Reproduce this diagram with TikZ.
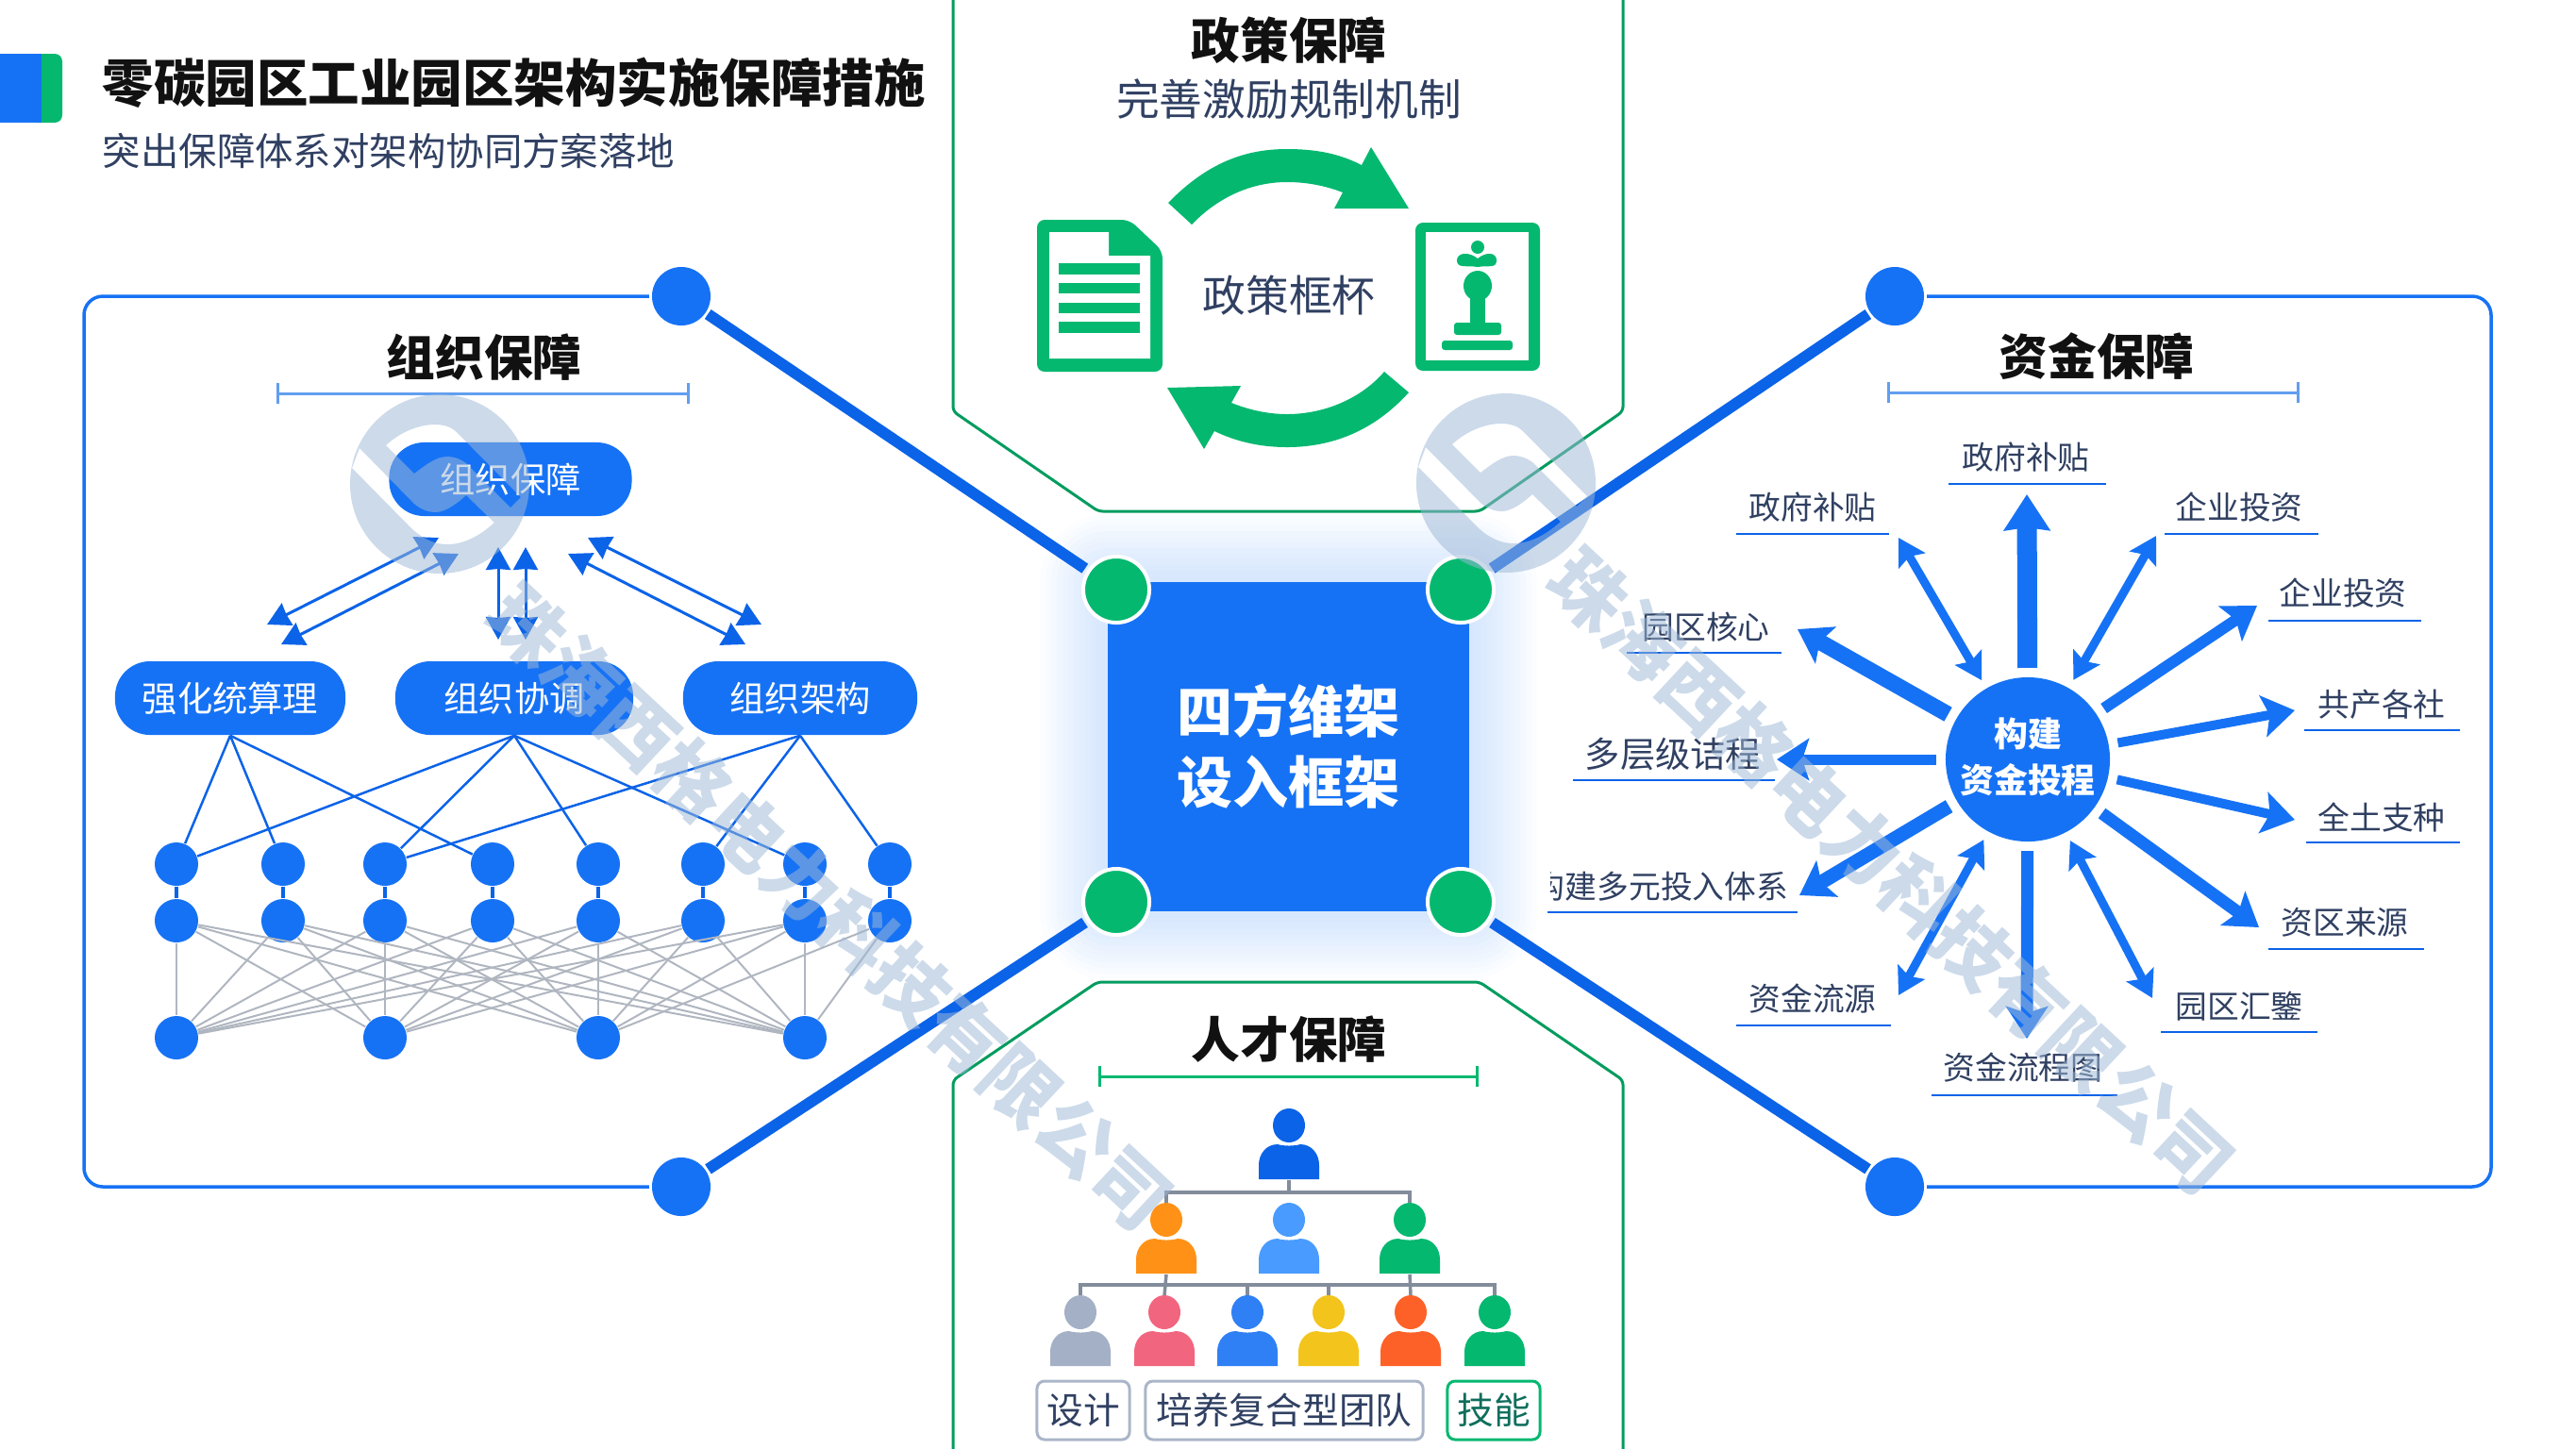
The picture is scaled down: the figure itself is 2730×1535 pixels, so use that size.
\documentclass[tikz,border=0pt]{standalone}
\usepackage{fontspec}
\setmainfont{Noto Sans CJK SC}
\usepackage{xcolor}
\usetikzlibrary{arrows.meta, positioning}
\definecolor{mainblue}{RGB}{22, 114, 245}
\definecolor{deepblue}{RGB}{11, 99, 232}
\definecolor{softblue}{RGB}{98, 158, 240}
\definecolor{mainshade}{RGB}{5, 184, 112}
\definecolor{inkdark}{RGB}{17, 17, 17}
\definecolor{inkslate}{RGB}{48, 64, 98}
\definecolor{meshgray}{RGB}{176, 182, 192}
\definecolor{treegray}{RGB}{130, 140, 155}
\definecolor{boxgray}{RGB}{170, 182, 200}
\definecolor{markblue}{RGB}{157, 184, 214}

\begin{document}
\begin{tikzpicture}[
    x=0.01cm, y=-0.01cm,
    heading/.style={font=\fontsize{14.7}{18}\selectfont\bfseries, text=inkdark, inner sep=0},
    subheading/.style={font=\fontsize{13}{16}\selectfont, text=inkslate, inner sep=0},
    dot/.style={circle, fill=mainblue, minimum size=0.62cm, inner sep=0, outer sep=0.3mm},
    joint/.style={circle, fill=mainshade, draw=white, line width=0.4mm, minimum size=0.7cm, inner sep=0},
    limb/.style={line width=1.2mm, deepblue},
    panel/.style={line width=0.35mm, mainblue, rounded corners=2mm},
    fence/.style={line width=0.3mm, mainshade!85!black, rounded corners=0.5mm},
    tickrule/.style={|-|, line width=0.3mm, softblue},
    pill/.style={fill=mainblue, rounded corners=3.7mm, minimum height=0.78cm, text=white, inner sep=0, font=\fontsize{10.6}{13}\selectfont},
    linknode/.style={circle, fill=mainblue, minimum size=0.46cm, inner sep=0},
    rise/.style={{Stealth[length=2.4mm,width=2.6mm,inset=0.1mm]}-{Stealth[length=2.4mm,width=2.6mm,inset=0.1mm]}, line width=0.3mm, deepblue},
    bluelink/.style={line width=0.25mm, deepblue},
    mesh/.style={line width=0.2mm, meshgray},
    fundlabel/.style={font=\fontsize{9.6}{12}\selectfont, text=inkslate, inner sep=0},
    fundrule/.style={line width=0.25mm, deepblue},
    spoke/.style={-{Stealth[length=3.4mm,width=4.4mm,inset=0.7mm]}, line width=1.2mm, mainblue},
    twoway/.style={{Stealth[length=2.8mm,width=3.2mm,inset=0.5mm]}-{Stealth[length=2.8mm,width=3.2mm,inset=0.5mm]}, line width=0.9mm, mainblue},
    tree/.style={line width=0.35mm, treegray},
    tagbox/.style={draw=boxgray, line width=0.3mm, rounded corners=0.8mm, minimum height=0.62cm, inner sep=0, text=inkslate, font=\fontsize{11}{13}\selectfont},
    person/.pic={
        \path[pic actions] (0,0) ellipse [x radius=17, y radius=18];
        \path[pic actions] (-32,57) -- (-32,42) .. controls (-32,30) and (-24,20) .. (-12,20)
            .. controls (-5,22) and (5,22) .. (12,20) .. controls (24,20) and (32,30) .. (32,42) -- (32,57) -- cycle;
        \coordinate (-foot) at (0,58);
        \coordinate (-top) at (0,-18);
    },
    seal/.pic={
        \path[pic actions, even odd rule] (0,0) circle [radius=95]
            (-57,-41) .. controls (-42,-55) and (-22,-63) .. (-5,-63) .. controls (5,-63) and (13,-60) .. (18,-55)
            -- (86,14) -- (75,25) -- (28,-22) .. controls (21,-27) and (15,-29) .. (8,-29)
            .. controls (-4,-29) and (-15,-20) .. (-27,-11) -- cycle
            (-85,-38) -- (-27,21) .. controls (-20,27) and (-12,30) .. (-5,30) .. controls (6,30) and (18,21) .. (28,12)
            -- (58,41) .. controls (41,56) and (25,64) .. (8,64) .. controls (-9,64) and (-22,55) .. (-32,45)
            -- (-93,-17) -- cycle;
    }
]
    \useasboundingbox (0,0) rectangle (2730,1535);

    % Header
    \fill[mainshade, rounded corners=0.8mm] (30,57) rectangle (66,130);
    \fill[mainblue] (0,57) rectangle (44,130);
    \node[heading, anchor=west, font=\fontsize{15.5}{19}\selectfont\bfseries] (maintitle) at (108,88) {零碳园区工业园区架构实施保障措施};
    \node[subheading, anchor=west, font=\fontsize{11.5}{14}\selectfont] (mainsub) at (108,160) {突出保障体系对架构协同方案落地};

    % Glow
    \foreach \g in {6,12,...,72} {
        \fill[mainblue, opacity=0.014, rounded corners=\g*0.1mm] (1174-\g,617-\g) rectangle (1557+\g,966+\g);
    }

    % Center
    \node[fill=mainblue, minimum width=3.83cm, minimum height=3.49cm, inner sep=0, align=center, text=white,
          font=\fontsize{16.8}{21.3}\selectfont\bfseries] (core) at (1365.5,791.5) {四方维架\\设入框架};

    % Outer and inner joints
    \node[dot] (lefttop) at (722,314) {};
    \node[dot] (leftbottom) at (722,1258) {};
    \node[dot] (righttop) at (2008,314) {};
    \node[dot] (rightbottom) at (2008,1258) {};
    \node[joint] (jointa) at (1183,625) {};
    \node[joint] (jointb) at (1548,625) {};
    \node[joint] (jointc) at (1183,956) {};
    \node[joint] (jointd) at (1548,956) {};
    \draw[limb, shorten >=0.3mm] (lefttop) -- (jointa);
    \draw[limb, shorten >=0.3mm] (righttop) -- (jointb);
    \draw[limb, shorten >=0.3mm] (leftbottom) -- (jointc);
    \draw[limb, shorten >=0.3mm] (rightbottom) -- (jointd);

    % Side panels
    \draw[panel] (lefttop.west) -- (89,314) -- (89,1258) -- (leftbottom.west);
    \draw[panel] (righttop.east) -- (2640,314) -- (2640,1258) -- (rightbottom.east);

    % Policy panel
    \draw[fence] (1010,-5) -- (1010,436) -- (1164,542) -- (1568,542) -- (1720,436) -- (1720,-5);
    \node[heading] (policyhead) at (1366,43) {政策保障};
    \node[subheading] (policysub) at (1366,105) {完善激励规制机制};
    \node[subheading] (policyhub) at (1366,313) {政策框杯};
    \fill[mainshade] (1238,215) .. controls (1280,172) and (1320,158) .. (1364,158) .. controls (1395,158) and (1420,163) .. (1443,175)
        -- (1453,156) -- (1493,221) -- (1414,221) -- (1423,204) .. controls (1405,197) and (1385,193) .. (1364,193)
        .. controls (1325,193) and (1290,210) .. (1263,238) -- cycle;
    \fill[mainshade] (1493,416) .. controls (1455,458) and (1410,474) .. (1364,474) .. controls (1335,474) and (1310,468) .. (1287,457)
        -- (1276,476) -- (1237,411) -- (1315,409) -- (1305,427) .. controls (1325,435) and (1345,439) .. (1364,439)
        .. controls (1400,439) and (1440,425) .. (1467,394) -- cycle;
    % Document icon
    \fill[mainshade, rounded corners=0.8mm] (1099,233) -- (1197,233) -- (1232,266) -- (1232,394) -- (1099,394) -- cycle;
    \fill[white] (1112,246) -- (1175,246) -- (1175,271) -- (1219,271) -- (1219,380) -- (1112,380) -- cycle;
    \fill[mainshade] (1122,279) rectangle (1208,291);
    \fill[mainshade] (1122,300) rectangle (1208,311);
    \fill[mainshade] (1122,321) rectangle (1208,332);
    \fill[mainshade] (1122,341) rectangle (1208,353);
    % Statue icon
    \fill[mainshade, rounded corners=0.8mm] (1500,236) rectangle (1632,393);
    \fill[white] (1511,246) rectangle (1620,382);
    \fill[mainshade] (1566,262) circle [radius=7];
    \fill[mainshade] (1566,283) .. controls (1555,281) and (1544,285) .. (1544,276) .. controls (1544,268) and (1556,266) .. (1566,274)
        .. controls (1576,266) and (1586,268) .. (1586,276) .. controls (1586,285) and (1577,281) .. (1566,283) -- cycle;
    \fill[mainshade] (1566,303) ellipse [x radius=15, y radius=16];
    \fill[mainshade] (1558,310) rectangle (1574,345);
    \fill[mainshade, rounded corners=0.3mm] (1541,355) -- (1541,342) -- (1591,342) -- (1591,355) -- cycle;
    \fill[mainshade, rounded corners=0.3mm] (1528,361) rectangle (1603,371);

    % Talent panel
    \draw[fence] (1010,1540) -- (1010,1145) -- (1163,1041) -- (1568,1041) -- (1720,1145) -- (1720,1540);
    \node[heading] (talenthead) at (1366,1102) {人才保障};
    \draw[tickrule, mainshade] (1164,1141) -- (1567,1141);
    \pic[fill=deepblue] (boss) at (1366,1193) {person};
    \pic[fill={rgb,255:red,255;green,146;blue,22}] (mida) at (1236,1293) {person};
    \pic[fill={rgb,255:red,74;green,155;blue,255}] (midb) at (1366,1293) {person};
    \pic[fill=mainshade] (midc) at (1494,1293) {person};
    \pic[fill={rgb,255:red,164;green,176;blue,198}] (staffa) at (1145,1391) {person};
    \pic[fill={rgb,255:red,242;green,101;blue,127}] (staffb) at (1234,1391) {person};
    \pic[fill={rgb,255:red,47;green,128;blue,245}] (staffc) at (1322,1391) {person};
    \pic[fill={rgb,255:red,243;green,196;blue,27}] (staffd) at (1408,1391) {person};
    \pic[fill={rgb,255:red,254;green,97;blue,40}] (staffe) at (1495,1391) {person};
    \pic[fill=mainshade] (stafff) at (1584,1391) {person};
    \coordinate (busa) at (1366,1264);
    \coordinate (busb) at (1366,1362);
    \draw[tree] (boss-foot) -- (busa);
    \draw[tree] (mida-top) -- (mida-top |- busa) -- (midc-top |- busa) -- (midc-top);
    \draw[tree] (staffa-top) -- (staffa-top |- busb) -- (stafff-top |- busb) -- (stafff-top);
    \draw[tree] (mida-foot) -- (staffb-top);
    \draw[tree] (midc-foot) -- (staffe-top);
    \draw[tree] (staffc-top) -- (staffc-top |- busb);
    \draw[tree] (staffd-top) -- (staffd-top |- busb);
    \node[tagbox, minimum width=0.98cm] (tagdesign) at (1148,1495) {设计};
    \node[tagbox, minimum width=2.94cm] (tagteam) at (1361,1495) {培养复合型团队};
    \node[tagbox, draw=mainshade, text={rgb,255:red,15;green,110;blue,92}, minimum width=0.98cm] (tagskill) at (1583,1495) {技能};

    % Organisation panel
    \node[heading] (orghead) at (513,379) {组织保障};
    \draw[tickrule] (293,417) -- (731,417);
    \node[pill, minimum width=2.57cm] (orgtop) at (541,508) {组织保障};
    \node[pill, minimum width=2.44cm] (orga) at (244,740) {强化统算理};
    \node[pill, minimum width=2.52cm] (orgb) at (545,740) {组织协调};
    \node[pill, minimum width=2.48cm] (orgc) at (848,740) {组织架构};

    \coordinate (risea) at (465,570);
    \coordinate (riseb) at (283,662);
    \coordinate (risec) at (486,587);
    \coordinate (rised) at (298,683);
    \coordinate (risee) at (528,580);
    \coordinate (risef) at (528,678);
    \coordinate (riseg) at (557,580);
    \coordinate (riseh) at (557,678);
    \coordinate (risei) at (623,570);
    \coordinate (risej) at (807,662);
    \coordinate (risek) at (602,587);
    \coordinate (risel) at (790,683);
    \draw[rise] (risea) -- (riseb);
    \draw[rise] (risec) -- (rised);
    \draw[rise] (risee) -- (risef);
    \draw[rise] (riseg) -- (riseh);
    \draw[rise] (risei) -- (risej);
    \draw[rise] (risek) -- (risel);

    \node[linknode] (na) at (187,916) {};
    \node[linknode] (nb) at (300,916) {};
    \node[linknode] (nc) at (408,916) {};
    \node[linknode] (nd) at (522,916) {};
    \node[linknode] (ne) at (634,916) {};
    \node[linknode] (nf) at (745,916) {};
    \node[linknode] (ng) at (853,916) {};
    \node[linknode] (nh) at (943,916) {};
    \node[linknode] (ka) at (187,976) {};
    \node[linknode] (kb) at (300,976) {};
    \node[linknode] (kc) at (408,976) {};
    \node[linknode] (kd) at (522,976) {};
    \node[linknode] (ke) at (634,976) {};
    \node[linknode] (kf) at (745,976) {};
    \node[linknode] (kg) at (853,976) {};
    \node[linknode] (kh) at (943,976) {};
    \node[linknode] (ma) at (187,1100) {};
    \node[linknode] (mb) at (408,1100) {};
    \node[linknode] (mc) at (634,1100) {};
    \node[linknode] (md) at (853,1100) {};

    \foreach \a in {a,b,c,d,e,f,g} {
        \foreach \b in {a,b,c,d} {
            \draw[mesh] (k\a) -- (m\b);
        }
    }
    \draw[mesh] (kh) -- (mc);
    \draw[mesh] (kh) -- (md);
    \foreach \a in {a,b,c,d,e,f,g,h} {
        \draw[line width=0.4mm, deepblue] (n\a) -- (k\a);
    }
    \draw[bluelink] (orga.south) -- (na);
    \draw[bluelink] (orga.south) -- (nb);
    \draw[bluelink] (orga.south) -- (nd);
    \draw[bluelink] (orgb.south) -- (na);
    \draw[bluelink] (orgb.south) -- (nc);
    \draw[bluelink] (orgb.south) -- (ne);
    \draw[bluelink] (orgb.south) -- (ng);
    \draw[bluelink] (orgc.south) -- (nc);
    \draw[bluelink] (orgc.south) -- (nf);
    \draw[bluelink] (orgc.south) -- (nh);

    % Funding panel
    \node[heading] (fundhead) at (2222,378) {资金保障};
    \draw[tickrule] (2000,416) -- (2437,416);
    \node[circle, fill=mainblue, minimum size=1.74cm, inner sep=0, outer sep=1mm, text=white, align=center,
          font=\fontsize{10.2}{13.9}\selectfont\bfseries] (hub) at (2149,805) {构建\\资金投程\rule[-0.8mm]{0pt}{0pt}};

    \node[fundlabel] (fa) at (2147,485) {政府补贴};
    \draw[fundrule] (2065,513) -- (2232,513);
    \node[fundlabel] (fb) at (2373,538) {企业投资};
    \draw[fundrule] (2294,566) -- (2457,566);
    \node[fundlabel] (fc) at (2483,629) {企业投资};
    \draw[fundrule] (2404,658) -- (2566,658);
    \node[fundlabel] (fd) at (2524,747) {共产各社};
    \draw[fundrule] (2442,774) -- (2607,774);
    \node[fundlabel] (fe) at (2524,866) {全土支种};
    \draw[fundrule] (2444,893) -- (2607,893);
    \node[fundlabel] (ff) at (2485,978) {资区来源};
    \draw[fundrule] (2404,1006) -- (2569,1006);
    \node[fundlabel] (fg) at (2373,1067) {园区汇鑒};
    \draw[fundrule] (2290,1094) -- (2456,1094);
    \node[fundlabel] (fh) at (2144,1132) {资金流程图};
    \draw[fundrule] (2047,1161) -- (2244,1161);
    \node[fundlabel] (fi) at (1921,1059) {资金流源};
    \draw[fundrule] (1840,1087) -- (2004,1087);
    \begin{scope}
        \clip (1643,900) rectangle (1900,980);
        \node[fundlabel] (fj) at (1760,940) {构建多元投入体系};
    \end{scope}
    \draw[fundrule] (1640,967) -- (1905,967);
    \node[fundlabel, font=\fontsize{10.6}{13}\selectfont] (fk) at (1773,799) {多层级诘程};
    \draw[fundrule] (1667,827) -- (1881,827);
    \node[fundlabel] (fl) at (1808,665) {园区核心};
    \draw[fundrule] (1724,692) -- (1888,692);
    \node[fundlabel] (fm) at (1921,538) {政府补贴};
    \draw[fundrule] (1840,566) -- (2002,566);

    \coordinate (tipa) at (2148,524);
    \coordinate (tipb) at (2285,568);
    \coordinate (tipc) at (2392,642);
    \coordinate (tipd) at (2432,753);
    \coordinate (tipe) at (2432,869);
    \coordinate (tipf) at (2394,983);
    \coordinate (tipg) at (2281,1058);
    \coordinate (tiph) at (2148,1101);
    \coordinate (tipi) at (2012,1055);
    \coordinate (tipj) at (1907,949);
    \coordinate (tipk) at (1883,805);
    \coordinate (tipl) at (1905,667);
    \coordinate (tipm) at (2012,570);
    \draw[spoke, line width=2.1mm, -{Stealth[length=3.8mm,width=4.8mm,inset=0.3mm]}] (hub) -- (tipa);
    \draw[twoway] (hub) -- (tipb);
    \draw[spoke] (hub) -- (tipc);
    \draw[spoke, line width=1mm] (hub) -- (tipd);
    \draw[spoke, line width=1mm] (hub) -- (tipe);
    \draw[spoke, line width=1.3mm] (hub) -- (tipf);
    \draw[twoway] (hub) -- (tipg);
    \draw[spoke, line width=1.3mm] (hub) -- (tiph);
    \draw[twoway] (hub) -- (tipi);
    \draw[spoke, line width=1.5mm] (hub) -- (tipj);
    \draw[spoke, line width=1.1mm] (hub) -- (tipk);
    \draw[spoke, line width=1.7mm] (hub) -- (tipl);
    \draw[twoway] (hub) -- (tipm);

    % Watermark
    \pic[fill=markblue, opacity=0.52] (sealleft) at (466,513) {seal};
    \pic[fill=markblue, opacity=0.52] (sealright) at (1596,512) {seal};
    \node[rotate=-43, text=markblue, opacity=0.52, inner sep=0, font=\fontsize{22.6}{28}\selectfont\bfseries] (markleft) at (879,962) {珠海西格电力科技有限公司};
    \node[rotate=-43, text=markblue, opacity=0.52, inner sep=0, font=\fontsize{22.6}{28}\selectfont\bfseries] (markright) at (2004,924) {珠海西格电力科技有限公司};
\end{tikzpicture}
\end{document}
